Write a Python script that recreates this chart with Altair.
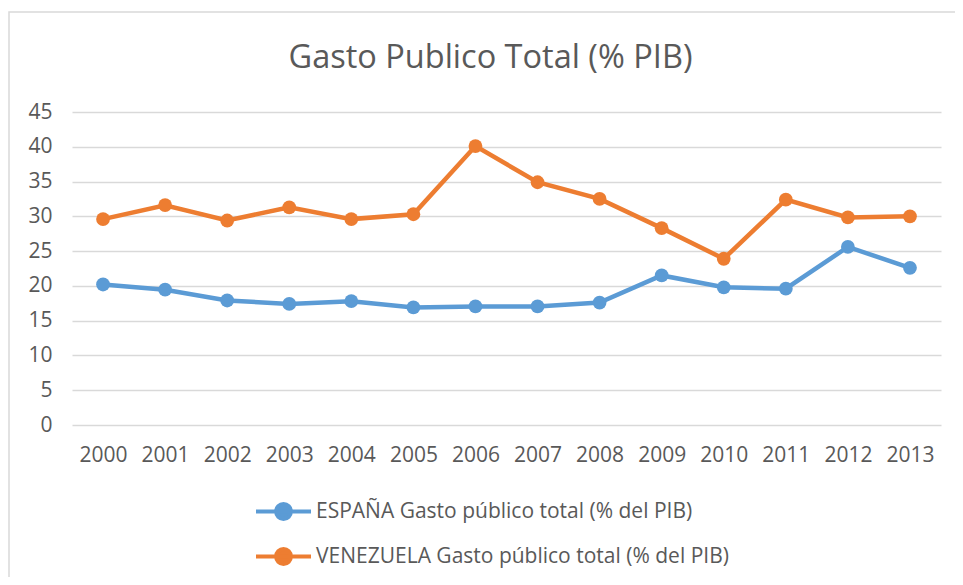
import altair as alt
import pandas as pd

years = ["2000", "2001", "2002", "2003", "2004", "2005", "2006",
         "2007", "2008", "2009", "2010", "2011", "2012", "2013"]
espana = [20.2, 19.45, 17.9, 17.4, 17.8, 16.9, 17.05,
          17.05, 17.6, 21.5, 19.8, 19.6, 25.6, 22.6]
venezuela = [29.6, 31.6, 29.4, 31.3, 29.6, 30.3, 40.1,
             34.9, 32.5, 28.3, 23.9, 32.4, 29.85, 30.0]
series_names = ["ESPAÑA Gasto público total (% del PIB)",
                "VENEZUELA Gasto público total (% del PIB)"]
colors = ["#5B9BD5", "#ED7D31"]
y_ticks = [0, 5, 10, 15, 20, 25, 30, 35, 40, 45]

rows = []
for name, vals in zip(series_names, [espana, venezuela]):
    for yr, v in zip(years, vals):
        rows.append({"year": yr, "value": v, "serie": name})
df = pd.DataFrame(rows)

FONT = "Open Sans"
TXT = "#595959"

legend_symbol = ("M-1,0L1,0M-0.27,0A0.27,0.27,0,1,1,0.27,0"
                 "A0.27,0.27,0,1,1,-0.27,0Z")

color = alt.Color(
    "serie:N",
    scale=alt.Scale(domain=series_names, range=colors),
    legend=alt.Legend(
        title=None, orient="none", legendX=182, legendY=370,
        direction="vertical", symbolType=legend_symbol, symbolSize=3025,
        symbolStrokeWidth=4, labelFontSize=21, labelFont=FONT,
        labelColor=TXT, labelLimit=600, rowPadding=-10, labelOffset=3,
    ),
)

x = alt.X("year:O", sort=years,
          scale=alt.Scale(type="point", padding=0.5),
          axis=alt.Axis(title=None, labelAngle=0, domain=False, ticks=False,
                        labelFontSize=21, labelFont=FONT, labelColor=TXT,
                        labelPadding=19, grid=False))
y = alt.Y("value:Q",
          scale=alt.Scale(domain=[0, 45], nice=False),
          axis=alt.Axis(title=None, values=y_ticks, domain=False, ticks=False,
                        labelFontSize=21, labelFont=FONT, labelColor=TXT,
                        labelPadding=20, gridColor="#d9d9d9", gridWidth=1.3))

base = alt.Chart(df)
line = base.mark_line(strokeWidth=4.5).encode(x=x, y=y, color=color)
pts = base.mark_point(filled=True, size=190, opacity=1).encode(x=x, y=y, color=color)

frame = alt.Chart(pd.DataFrame({"a": [0]})).mark_rect(
    fill=None, stroke="#d9d9d9", strokeWidth=1.5
).encode(x=alt.value(-63), x2=alt.value(1000), y=alt.value(-100), y2=alt.value(480))

chart = alt.layer(frame, line, pts).properties(
    width=869, height=313,
    title=alt.TitleParams("Gasto Publico Total (% PIB)", fontSize=32.5, font=FONT,
                          fontWeight="normal", color=TXT, anchor="middle",
                          dx=-16, dy=63, offset=0),
    autosize=alt.AutoSizeParams(type="none"),
    padding={"left": 64, "top": 104, "right": 14, "bottom": 152},
).configure_view(stroke=None)

chart.save("out.html", embed_options={"renderer": "svg", "actions": False})
